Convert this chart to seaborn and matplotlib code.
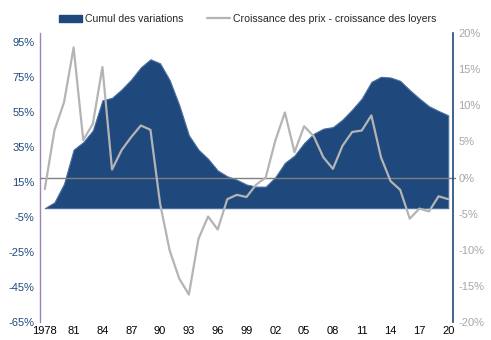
import matplotlib
matplotlib.use("Agg")
import matplotlib.pyplot as plt
import matplotlib.ticker as mticker
from matplotlib.patches import Patch
from matplotlib.lines import Line2D
import numpy as np
import pandas as pd
import seaborn as sns

years = list(range(1978, 2021))
cumul = [0.0, 3.3, 13.9, 33.4, 37.7, 44.4, 61.6, 63.0, 67.8, 73.5, 80.4, 85.0, 82.7,
         73.1, 58.8, 41.6, 33.4, 28.2, 21.5, 18.2, 16.2, 13.5, 12.3, 12.3, 17.7, 25.9,
         30.1, 37.2, 42.5, 45.4, 46.3, 50.6, 56.3, 62.6, 72.1, 75.0, 74.6, 72.7, 67.4,
         62.6, 58.2, 55.5, 53.0]
ecart = [-1.6, 6.5, 10.4, 18.0, 5.2, 7.4, 15.3, 1.1, 3.8, 5.6, 7.2, 6.6, -3.6,
         -10.1, -14.0, -16.2, -8.5, -5.4, -7.2, -3.0, -2.4, -2.7, -1.0, 0.0, 5.1, 9.0,
         3.5, 7.1, 5.7, 2.8, 1.2, 4.4, 6.3, 6.5, 8.6, 2.8, -0.5, -1.7, -5.7, -4.3,
         -4.7, -2.6, -3.0]
xtick_years = list(range(1978, 2021, 3))
xtick_labels = ["1978"] + [f"{y % 100:02d}" for y in xtick_years[1:]]
left_ticks = list(range(-65, 100, 20))
right_ticks = list(range(-20, 21, 5))

label_area = "Cumul des variations"
label_line = "Croissance des prix - croissance des loyers"

df = pd.DataFrame({"annee": years, "cumul": cumul, "ecart": ecart})

sns.set_theme(style="white")
plt.rcParams["font.family"] = ["Liberation Sans", "DejaVu Sans"]

blue = "#1F497D"
grey_line = "#B4B4B4"

fig = plt.figure(figsize=(4.91, 3.40), dpi=100)
ax = fig.add_axes([40 / 491, 18 / 340, 413 / 491, 289 / 340])
ax2 = ax.twinx()

ax.fill_between(df["annee"], 0, df["cumul"], color=blue, linewidth=0.8,
                edgecolor="#4A6FA0", zorder=2)
ax.set_ylim(-65, 100)
ax.set_xlim(1977.5, 2020.5)
ax.set_yticks(left_ticks)
ax.yaxis.set_major_formatter(mticker.FuncFormatter(lambda v, p: f"{v:.0f}%"))
ax.tick_params(axis="y", colors=blue, labelsize=8, length=0, pad=4)
ax.set_xticks(xtick_years)
ax.set_xticklabels(xtick_labels)
ax.tick_params(axis="x", colors="black", labelsize=8, length=0, pad=3)

ax2.axhline(0, color="#808080", linewidth=1.0, zorder=1, xmin=0, xmax=1.005, clip_on=False)
sns.lineplot(data=df, x="annee", y="ecart", ax=ax2, color=grey_line, linewidth=1.6,
             zorder=3, legend=False)
ax2.set_ylim(-20, 20)
ax2.set_yticks(right_ticks)
ax2.yaxis.set_major_formatter(mticker.FuncFormatter(lambda v, p: f"{v:.0f}%"))
ax2.tick_params(axis="y", colors="#A6A6A6", labelsize=8, length=0, pad=4)
ax2.set_xlabel("")
ax2.set_ylabel("")
ax.set_xlabel("")
ax.set_ylabel("")

for a in (ax, ax2):
    a.set_facecolor("none")
    a.grid(False)
    for s in ("top", "bottom"):
        a.spines[s].set_visible(False)
ax.spines["right"].set_visible(False)
ax2.spines["left"].set_visible(False)
ax.spines["left"].set_color("#9A86BC")
ax.spines["left"].set_linewidth(1.0)
ax2.spines["right"].set_color(blue)
ax2.spines["right"].set_linewidth(1.2)
ax.set_zorder(ax2.get_zorder() - 1)

handles = [Patch(facecolor=blue, edgecolor=blue, label=label_area),
           Line2D([0], [0], color=grey_line, linewidth=1.6, label=label_line)]
fig.legend(handles=handles, loc="center", bbox_to_anchor=(0.505, 1 - 19 / 340), ncol=2,
           frameon=False, fontsize=7.6, handlelength=2.2, handletextpad=0.3,
           columnspacing=2.2, handleheight=0.6)

fig.savefig("out.png", dpi=100)
